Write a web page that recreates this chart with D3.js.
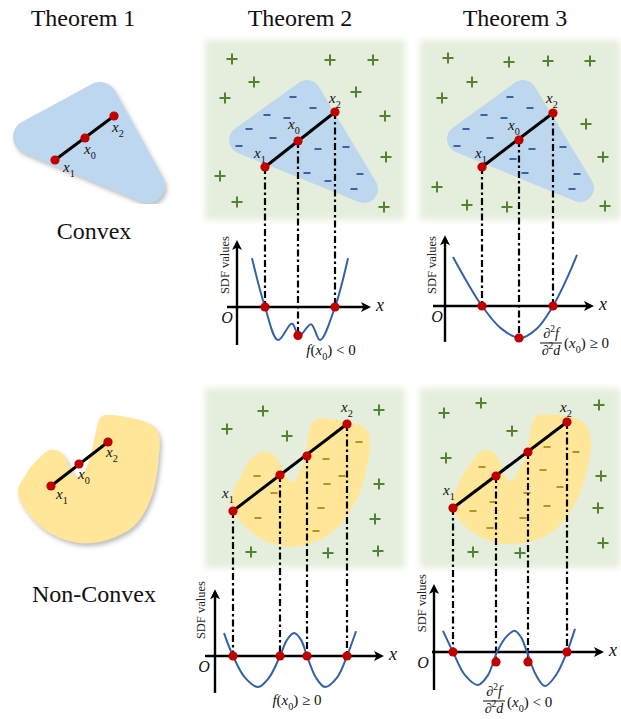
<!DOCTYPE html>
<html>
<head>
<meta charset="utf-8">
<script src="https://cdn.jsdelivr.net/npm/d3@7"></script>
<style>
  body { margin: 0; background: #fff; }
  svg { display: block; }
</style>
</head>
<body>
<script>
// ---------- data (panel units: x 0..200, y 0..180 inside each panel) ----------
const headers = ["Theorem 1", "Theorem 2", "Theorem 3"];
const rowNames = ["Convex", "Non-Convex"];

// corner centres of the rounded convex shape
const convexT1 = [[100, 39], [30, 77], [148, 126]];
const convexT2 = [[102, 54], [38, 100], [159, 149]];
const convexT3 = [[103, 54], [41, 99], [160, 148]];

// outlines of the non-convex shape
const nonConvexT1 = [[50,50],[58,51],[65,57],[70,68],[77,77],[86,68],[92,50],[96,32],[100,18],[107,15],[152,25],[159,36],[159,55],[152,95],[135,125],[107,140],[80,143],[50,133],[28,113],[18,92],[25,76],[37,60]];
const nonConvexT2 = [[57,64],[67,66],[74,74],[81,88],[87,94],[93,87],[99,72],[103,52],[106,37],[113,31],[147,35],[161,41],[165,55],[160,87],[150,115],[130,142],[100,157],[75,158],[50,147],[33,130],[26,117],[29,102],[38,84],[47,70]];
const nonConvexT3 = [[65,62],[73,64],[79,72],[85,87],[90,93],[96,87],[103,74],[108,57],[111,40],[117,28],[145,28],[164,35],[171,52],[167,82],[157,112],[135,142],[105,155],[78,155],[54,145],[38,130],[32,117],[36,102],[46,82],[56,68]];

// points on the segment x1 ... x2
const segT1a = [[55,100],[85,78],[114,56]];
const segT2a = [[60,127],[93,101],[130,72]];
const segT3a = [[62,127],[99,100],[133,73]];
const segT1b = [[51,86],[79,64],[108,42]];
const segT2b = [[28,123],[75,87],[102,68],[142,36]];
const segT3b = [[33,120],[76,88],[108,64],[147,34]];

// point labels [subscript, x, y]
const labT1a = [["1",69,112],["0",90,94],["2",118,72]];
const labT2a = [["1",55,118],["0",89,89],["2",130,63]];
const labT3a = [["1",61,118],["0",94,90],["2",132,63]];
const labT1b = [["1",62,99],["0",84,79],["2",112,57]];
const labT2b = [["1",23,110],["2",142,24]];
const labT3b = [["1",29,107],["2",146,24]];

// outside (+) and inside (-) samples
const plusT2a = [[27,19],[125,20],[168,20],[49,42],[20,58],[151,52],[180,76],[181,117],[15,136],[32,162],[179,167]];
const minusT2a = [[88,57],[108,68],[62,75],[82,78],[44,89],[68,98],[34,106],[113,109],[141,107],[102,133],[123,141],[155,134],[149,149]];
const plusT3a = [[28,18],[89,22],[128,21],[170,21],[52,42],[22,58],[166,84],[183,117],[17,147],[47,165],[87,167],[185,166]];
const minusT3a = [[90,57],[110,68],[64,75],[84,78],[46,89],[70,98],[37,106],[112,109],[143,107],[93,119],[105,133],[157,134],[152,149]];
const plusT2b = [[58,23],[22,41],[82,48],[174,22],[174,96],[170,131],[173,163],[46,164],[123,165]];
const minusT2b = [[52,88],[69,105],[53,130],[121,71],[137,88],[122,96],[116,120],[111,143],[154,54]];
const plusT3b = [[61,15],[24,25],[179,17],[92,43],[26,70],[181,88],[178,120],[183,155],[53,164],[100,165]];
const minusT3b = [[62,79],[73,114],[53,123],[70,140],[127,59],[156,64],[123,82],[140,99],[107,105],[127,118],[103,130]];

// SDF curves along the segment [x, SDF value]
const curveT2a = [[47,1.48],[60,0],[73,-1],[87,-0.5],[94,-0.88],[106,-0.52],[115,-1],[130,0],[143,1.48]];
const curveT3a = [[33,1.53],[47,0.75],[62,0],[81,-0.7],[100,-1],[117,-0.7],[133,0],[146,0.8],[157,1.6]];
const curveT2b = [[19,0.74],[28,0],[40,-0.7],[53,-1],[64,-0.7],[75,0],[82,0.52],[89,0.74],[96,0.52],[102,0],[111,-0.7],[120,-1],[132,-0.7],[142,0],[151,0.8]];
const curveT3b = [[23,0.64],[33,0],[45,-0.7],[58,-1],[68,-0.7],[77,0],[86,0.45],[95,0.64],[101,0.45],[107,0],[116,-0.7],[125,-1.03],[136,-0.7],[147,0],[155,0.7]];

const dotsT2a = [[60,0],[93,-0.86],[130,0]];
const dotsT3a = [[62,0],[99,-1],[133,0]];
const dotsT2b = [[28,0],[75,0],[102,0],[142,0]];
const dotsT3b = [[33,0],[76,-0.3],[108,-0.3],[147,0]];

// ---------- setup ----------
const W = 621, H = 719;
const font = "'Liberation Serif', 'Times New Roman', serif";
const col = {
  blue: "#bdd7ee", yellow: "#ffe699", bg: "#e5eedc", plus: "#548235",
  minusBlue: "#2f5597", minusGold: "#b08a1e", red: "#c00000", curve: "#3560a8"
};

const svg = d3.select("body").append("svg").attr("width", W).attr("height", H);
const defs = svg.append("defs");

defs.append("filter").attr("id", "soft")
  .attr("x", "-10%").attr("y", "-10%").attr("width", "120%").attr("height", "120%")
  .append("feGaussianBlur").attr("stdDeviation", 3);

defs.append("filter").attr("id", "shadow")
  .attr("x", "-20%").attr("y", "-20%").attr("width", "140%").attr("height", "140%")
  .append("feDropShadow").attr("dx", 2).attr("dy", 3).attr("stdDeviation", 2)
  .attr("flood-color", "#888").attr("flood-opacity", 0.55);

defs.append("marker").attr("id", "arrow")
  .attr("viewBox", "0 0 10 10").attr("refX", 7).attr("refY", 5)
  .attr("markerUnits", "userSpaceOnUse")
  .attr("markerWidth", 11).attr("markerHeight", 10).attr("orient", "auto")
  .append("path").attr("d", "M0,0L10,5L0,10L2.5,5Z").attr("fill", "#000");

function scalesFor(fx, fy) {
  return {
    x: d3.scaleLinear().domain([0, 200]).range([fx, fx + 200]),
    y: d3.scaleLinear().domain([0, 180]).range([fy, fy + 180])
  };
}

// text with italic / sub / sup pieces
function mathText(sel, x, y, parts, size, anchor) {
  const t = sel.append("text").attr("x", x).attr("y", y)
    .attr("font-family", font).attr("font-size", size)
    .attr("text-anchor", anchor || "start").attr("fill", "#111");
  let shift = 0;
  parts.forEach(([str, kind]) => {
    const sp = t.append("tspan").text(str);
    let target = 0;
    if (kind === "sub") target = size * 0.3;
    if (kind === "sup") target = -size * 0.4;
    sp.attr("dy", target - shift);
    shift = target;
    if (kind === "sub" || kind === "sup") sp.attr("font-size", size * 0.68);
    if (kind === "i") sp.attr("font-style", "italic");
  });
  return t;
}

// ---------- titles ----------
const headerX = [83, 300, 515];
svg.selectAll("text.header").data(headers).join("text")
  .attr("class", "header")
  .attr("x", (d, i) => headerX[i]).attr("y", 26)
  .attr("text-anchor", "middle").attr("font-family", font).attr("font-size", 24)
  .attr("fill", "#111").text(d => d);

const rowY = [239, 602];
svg.selectAll("text.row").data(rowNames).join("text")
  .attr("class", "row")
  .attr("x", 94).attr("y", (d, i) => rowY[i])
  .attr("text-anchor", "middle").attr("font-family", font).attr("font-size", 24)
  .attr("fill", "#111").text(d => d);

// ---------- drawing helpers ----------
function drawBg(g, s) {
  g.append("rect").attr("x", s.x(0)).attr("y", s.y(0))
    .attr("width", s.x(200) - s.x(0)).attr("height", s.y(180) - s.y(0))
    .attr("fill", col.bg).attr("filter", "url(#soft)");
}

function drawConvex(g, s, corners, r, shadow) {
  const line = d3.line().x(d => s.x(d[0])).y(d => s.y(d[1]));
  const p = g.append("path").attr("d", line(corners) + "Z")
    .attr("fill", col.blue).attr("stroke", col.blue)
    .attr("stroke-width", 2 * r).attr("stroke-linejoin", "round");
  if (shadow) p.attr("filter", "url(#shadow)");
}

function drawNonConvex(g, s, pts, shadow) {
  const line = d3.line().x(d => s.x(d[0])).y(d => s.y(d[1]))
    .curve(d3.curveCatmullRomClosed.alpha(0.5));
  const p = g.append("path").attr("d", line(pts)).attr("fill", col.yellow);
  if (shadow) p.attr("filter", "url(#shadow)");
}

function drawSigns(g, s, plus, minus, minusColor) {
  g.selectAll(null).data(plus).join("path")
    .attr("d", d => {
      const x = s.x(d[0]), y = s.y(d[1]);
      return `M${x - 5.5},${y}H${x + 5.5}M${x},${y - 5.5}V${y + 5.5}`;
    })
    .attr("stroke", col.plus).attr("stroke-width", 2);
  g.selectAll(null).data(minus).join("path")
    .attr("d", d => {
      const x = s.x(d[0]), y = s.y(d[1]);
      return `M${x - 3.5},${y}H${x + 3.5}`;
    })
    .attr("stroke", minusColor).attr("stroke-width", 1.8);
}

function drawSegment(g, s, pts) {
  const a = pts[0], b = pts[pts.length - 1];
  g.append("line")
    .attr("x1", s.x(a[0])).attr("y1", s.y(a[1]))
    .attr("x2", s.x(b[0])).attr("y2", s.y(b[1]))
    .attr("stroke", "#000").attr("stroke-width", 3);
}

function drawDots(g, xf, yf, pts) {
  g.selectAll(null).data(pts).join("circle")
    .attr("cx", d => xf(d[0])).attr("cy", d => yf(d[1])).attr("r", 4.6)
    .attr("fill", col.red);
}

function drawLabels(g, s, labs) {
  labs.forEach(([sub, u, v]) => {
    mathText(g, s.x(u), s.y(v), [["x", "i"], [sub, "sub"]], 15, "middle");
  });
}

// SDF chart under a panel
function drawChart(g, s, c) {
  const y = d3.scaleLinear().domain([-1, 1]).range([c.axisY + c.unit, c.axisY - c.unit]);

  // dash-dot drop lines from segment points to the chart
  c.seg.forEach((p, i) => {
    g.append("line")
      .attr("x1", s.x(p[0])).attr("y1", s.y(p[1]))
      .attr("x2", s.x(p[0])).attr("y2", y(c.dots[i][1]))
      .attr("stroke", "#000").attr("stroke-width", 2.2)
      .attr("stroke-dasharray", "7,3,2.5,3");
  });

  // axes
  g.append("line")
    .attr("x1", s.x(c.yAxisU)).attr("y1", y(c.yBot))
    .attr("x2", s.x(c.yAxisU)).attr("y2", y(c.yTop))
    .attr("stroke", "#000").attr("stroke-width", 2.4).attr("marker-end", "url(#arrow)");
  g.append("line")
    .attr("x1", s.x(c.xFrom)).attr("y1", y(0))
    .attr("x2", s.x(c.xTo)).attr("y2", y(0))
    .attr("stroke", "#000").attr("stroke-width", 2.4).attr("marker-end", "url(#arrow)");

  mathText(g, s.x(c.xTo) + 8, y(0) + 4, [["x", "i"]], 18, "start");
  mathText(g, s.x(c.oU), y(0) + 16, [["O", "i"]], 16, "middle");
  g.append("text")
    .attr("transform", `translate(${s.x(c.sdfU)},${y(c.sdfV)}) rotate(-90)`)
    .attr("text-anchor", "middle").attr("dy", "0.35em")
    .attr("font-family", font).attr("font-size", 12.5).attr("fill", "#222")
    .text("SDF values");

  const line = d3.line().x(d => s.x(d[0])).y(d => y(d[1]))
    .curve(d3.curveCatmullRom.alpha(0.5));
  g.append("path").datum(c.curve).attr("d", line)
    .attr("fill", "none").attr("stroke", col.curve).attr("stroke-width", 2);

  drawDots(g, s.x, y, c.dots);
  return y;
}

function fraction(g, cx, barY, num, den) {
  mathText(g, cx, barY - 5, [["∂", "n"], ["2", "sup"], [num, "i"]], 14, "middle");
  g.append("line").attr("x1", cx - 11).attr("x2", cx + 11)
    .attr("y1", barY).attr("y2", barY).attr("stroke", "#111").attr("stroke-width", 1);
  mathText(g, cx, barY + 12, [["∂", "n"], ["2", "sup"], [den, "i"]], 14, "middle");
}

// ---------- Theorem 1 ----------
const t1a = scalesFor(0, 60);
const t1b = scalesFor(0, 400);
const g1 = svg.append("g");
drawConvex(g1, t1a, convexT1, 17, true);
drawSegment(g1, t1a, segT1a);
drawDots(g1, t1a.x, t1a.y, segT1a);
drawLabels(g1, t1a, labT1a);

drawNonConvex(g1, t1b, nonConvexT1, true);
drawSegment(g1, t1b, segT1b);
drawDots(g1, t1b.x, t1b.y, segT1b);
drawLabels(g1, t1b, labT1b);

// ---------- Theorem 2 / 3 panels ----------
const panels = [
  { s: scalesFor(205, 40), kind: "convex", shape: convexT2, plus: plusT2a, minus: minusT2a,
    seg: segT2a, labs: labT2a, curve: curveT2a, dots: dotsT2a,
    axisY: 307, unit: 33, yTop: 1.94, yBot: -1.15, xFrom: 22, xTo: 163, yAxisU: 32,
    oU: 22, sdfU: 20, sdfV: 1.27 },
  { s: scalesFor(420, 40), kind: "convex", shape: convexT3, plus: plusT3a, minus: minusT3a,
    seg: segT3a, labs: labT3a, curve: curveT3a, dots: dotsT3a,
    axisY: 306, unit: 32, yTop: 2.12, yBot: -1.12, xFrom: 13, xTo: 171, yAxisU: 25,
    oU: 17, sdfU: 12, sdfV: 1.28 },
  { s: scalesFor(205, 388), kind: "nonconvex", shape: nonConvexT2, plus: plusT2b, minus: minusT2b,
    seg: segT2b, labs: labT2b, curve: curveT2b, dots: dotsT2b,
    axisY: 656, unit: 31, yTop: 2.06, yBot: -1.19, xFrom: 0, xTo: 176, yAxisU: 10,
    oU: -1, sdfU: -4, sdfV: 1.48 },
  { s: scalesFor(420, 388), kind: "nonconvex", shape: nonConvexT3, plus: plusT3b, minus: minusT3b,
    seg: segT3b, labs: labT3b, curve: curveT3b, dots: dotsT3b,
    axisY: 652, unit: 33, yTop: 1.97, yBot: -1.15, xFrom: 12, xTo: 181, yAxisU: 14,
    oU: 3, sdfU: 2, sdfV: 1.48 }
];

panels.forEach(p => {
  const g = svg.append("g");
  drawBg(g, p.s);
  if (p.kind === "convex") drawConvex(g, p.s, p.shape, 14, false);
  else drawNonConvex(g, p.s, p.shape, false);
  drawSigns(g, p.s, p.plus, p.minus, p.kind === "convex" ? col.minusBlue : col.minusGold);
  drawChart(g, p.s, p);
  drawSegment(g, p.s, p.seg);
  drawDots(g, p.s.x, p.s.y, p.seg);
  drawLabels(g, p.s, p.labs);
  p.g = g;
});

// ---------- conditions under each chart ----------
{
  const p = panels[0];
  mathText(p.g, p.s.x(126), p.axisY + 48,
    [["f", "i"], ["(", "n"], ["x", "i"], ["0", "sub"], [") < 0", "n"]], 15, "middle");
}
{
  const p = panels[1];
  fraction(p.g, p.s.x(131), p.axisY + 37, "f", "d");
  mathText(p.g, p.s.x(144), p.axisY + 42,
    [["(", "n"], ["x", "i"], ["0", "sub"], [") ≥ 0", "n"]], 15, "start");
}
{
  const p = panels[2];
  mathText(p.g, p.s.x(92), p.axisY + 49,
    [["f", "i"], ["(", "n"], ["x", "i"], ["0", "sub"], [") ≥ 0", "n"]], 15, "middle");
}
{
  const p = panels[3];
  fraction(p.g, p.s.x(74), p.axisY + 49, "f", "d");
  mathText(p.g, p.s.x(87), p.axisY + 55,
    [["(", "n"], ["x", "i"], ["0", "sub"], [") < 0", "n"]], 15, "start");
}
</script>
</body>
</html>
